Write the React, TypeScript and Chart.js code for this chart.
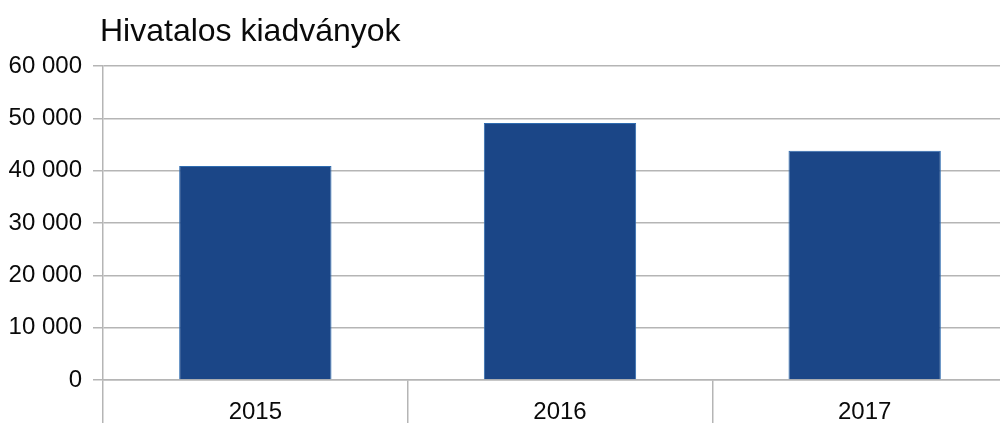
import React, { useEffect, useRef } from "react";
import { Chart, registerables } from "chart.js";

Chart.register(...registerables);

const title = "Hivatalos kiadványok";
const categories = ["2015", "2016", "2017"];
const values = [40900, 49100, 43800];
const yMin = 0;
const yMax = 60000;
const yStep = 10000;

const gridColor = "#b5b5b5";
const barColor = "#1b4687";
const barEdge = "#2f6cb0";
const textColor = "#0a0a0a";
const tickFont = "'Liberation Sans', Arial, sans-serif";
const titleFont = "'Liberation Sans', Arial, sans-serif";

function formatThousands(v: number): string {
  return String(v).replace(/\B(?=(\d{3})+(?!\d))/g, " ");
}

const titlePlugin = {
  id: "leftTitle",
  afterDraw(chart: any) {
    const ctx = chart.ctx;
    ctx.save();
    ctx.font = `32px ${titleFont}`;
    ctx.fillStyle = textColor;
    ctx.textAlign = "left";
    ctx.textBaseline = "alphabetic";
    ctx.fillText(title, 100, 41);
    ctx.restore();
  },
};

export default function App() {
  const canvasRef = useRef<HTMLCanvasElement | null>(null);

  useEffect(() => {
    if (!canvasRef.current) return;
    const chart = new Chart(canvasRef.current, {
      type: "bar",
      data: {
        labels: categories,
        datasets: [
          {
            label: title,
            data: values,
            backgroundColor: barColor,
            borderColor: barEdge,
            borderWidth: 1,
            categoryPercentage: 1,
            barPercentage: 0.5,
          },
        ],
      },
      options: {
        responsive: false,
        animation: false,
        layout: { padding: { top: 66, left: 0, right: 0, bottom: 0 } },
        plugins: {
          legend: { display: false },
          title: { display: false },
          tooltip: { enabled: false },
        },
        scales: {
          x: {
            afterFit(scale: any) {
              scale.height = 43;
            },
            grid: {
              offset: true,
              drawOnChartArea: false,
              drawTicks: true,
              tickLength: 45,
              color: gridColor,
              lineWidth: 1.5,
            },
            border: { display: true, color: gridColor, width: 1.5 },
            ticks: {
              color: textColor,
              font: { family: tickFont, size: 24 },
              padding: -27,
              maxRotation: 0,
            },
          },
          y: {
            min: yMin,
            max: yMax,
            afterFit(scale: any) {
              scale.width = 103;
            },
            grid: {
              color: gridColor,
              lineWidth: 1.5,
              drawTicks: true,
              tickLength: 10,
            },
            border: { display: true, color: gridColor, width: 1.5 },
            ticks: {
              stepSize: yStep,
              color: textColor,
              font: { family: tickFont, size: 24 },
              padding: 11,
              callback: (v: any) => formatThousands(Number(v)),
            },
          },
        },
      },
      plugins: [titlePlugin],
    });
    return () => chart.destroy();
  }, []);

  return (
    <div
      style={{
        position: "fixed",
        left: 0,
        top: 0,
        width: 1000,
        height: 423,
        overflow: "hidden",
        background: "#ffffff",
      }}
    >
      <canvas
        ref={canvasRef}
        width={1017}
        height={423}
        style={{ width: 1017, height: 423, display: "block" }}
      />
    </div>
  );
}
